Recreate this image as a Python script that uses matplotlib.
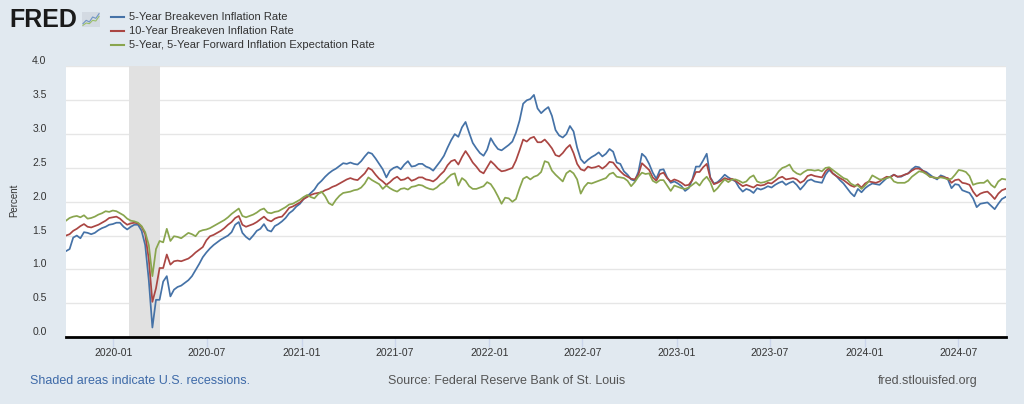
import matplotlib
matplotlib.use("Agg")
import matplotlib.pyplot as plt
import matplotlib.dates as mdates
import pandas as pd

# weekly readings (Tuesdays from 2019-10-01), percent
five_year = [
    1.27, 1.30, 1.47, 1.50, 1.46, 1.55, 1.54, 1.52, 1.54, 1.58,
    1.61, 1.63, 1.66, 1.67, 1.69, 1.69, 1.63, 1.59, 1.63, 1.66,
    1.66, 1.57, 1.36, 0.84, 0.14, 0.55, 0.55, 0.82, 0.90, 0.60,
    0.70, 0.74, 0.76, 0.80, 0.84, 0.90, 0.99, 1.08, 1.18, 1.25,
    1.31, 1.36, 1.40, 1.44, 1.47, 1.50, 1.55, 1.66, 1.70, 1.54,
    1.48, 1.44, 1.50, 1.57, 1.60, 1.67, 1.58, 1.56, 1.64, 1.67,
    1.71, 1.76, 1.83, 1.87, 1.93, 1.97, 2.04, 2.08, 2.13, 2.18,
    2.26, 2.31, 2.37, 2.42, 2.46, 2.49, 2.53, 2.57, 2.56, 2.58,
    2.56, 2.55, 2.60, 2.67, 2.73, 2.71, 2.64, 2.56, 2.48, 2.36,
    2.46, 2.50, 2.52, 2.48, 2.55, 2.60, 2.52, 2.53, 2.56, 2.56,
    2.52, 2.50, 2.46, 2.53, 2.60, 2.68, 2.80, 2.91, 3.00, 2.96,
    3.10, 3.18, 3.02, 2.87, 2.79, 2.72, 2.68, 2.77, 2.94, 2.85,
    2.78, 2.76, 2.80, 2.84, 2.89, 3.02, 3.20, 3.45, 3.50, 3.52,
    3.58, 3.38, 3.31, 3.36, 3.40, 3.27, 3.06, 2.98, 2.95, 3.00,
    3.12, 3.04, 2.80, 2.63, 2.57, 2.62, 2.66, 2.69, 2.73, 2.67,
    2.71, 2.78, 2.74, 2.58, 2.56, 2.45, 2.40, 2.33, 2.31, 2.44,
    2.71, 2.66, 2.56, 2.43, 2.34, 2.47, 2.48, 2.36, 2.28, 2.30,
    2.27, 2.23, 2.16, 2.20, 2.33, 2.52, 2.52, 2.61, 2.71, 2.36,
    2.27, 2.29, 2.34, 2.40, 2.36, 2.33, 2.30, 2.21, 2.15, 2.19,
    2.17, 2.13, 2.20, 2.18, 2.20, 2.23, 2.21, 2.25, 2.28, 2.30,
    2.25, 2.28, 2.30, 2.25, 2.18, 2.24, 2.31, 2.33, 2.30, 2.29,
    2.28, 2.40, 2.47, 2.42, 2.38, 2.32, 2.27, 2.20, 2.13, 2.08,
    2.19, 2.14, 2.20, 2.24, 2.27, 2.26, 2.25, 2.30, 2.35, 2.37,
    2.40, 2.37, 2.37, 2.40, 2.42, 2.48, 2.52, 2.51, 2.46, 2.44,
    2.40, 2.36, 2.33, 2.39, 2.37, 2.33, 2.20, 2.26, 2.25, 2.17,
    2.15, 2.13, 2.05, 1.92, 1.97, 1.98, 1.99, 1.94, 1.89, 1.97,
    2.04, 2.07,
]

ten_year = [
    1.50, 1.52, 1.57, 1.60, 1.64, 1.67, 1.63, 1.62, 1.64, 1.66,
    1.69, 1.72, 1.76, 1.77, 1.78, 1.75, 1.70, 1.66, 1.68, 1.69,
    1.68, 1.63, 1.52, 1.15, 0.52, 0.72, 1.02, 1.02, 1.22, 1.07,
    1.12, 1.13, 1.12, 1.14, 1.16, 1.20, 1.25, 1.29, 1.33, 1.43,
    1.49, 1.51, 1.54, 1.57, 1.61, 1.66, 1.70, 1.76, 1.79, 1.66,
    1.63, 1.65, 1.67, 1.70, 1.74, 1.78, 1.73, 1.71, 1.75, 1.77,
    1.78, 1.84, 1.91, 1.93, 1.96, 1.99, 2.04, 2.07, 2.10, 2.12,
    2.13, 2.14, 2.17, 2.19, 2.22, 2.24, 2.27, 2.30, 2.33, 2.35,
    2.33, 2.32, 2.37, 2.42, 2.50, 2.47, 2.40, 2.34, 2.30, 2.25,
    2.29, 2.34, 2.37, 2.32, 2.33, 2.36, 2.31, 2.33, 2.36, 2.36,
    2.33, 2.32, 2.30, 2.34, 2.40, 2.45, 2.54, 2.60, 2.62, 2.55,
    2.66, 2.75, 2.67, 2.58, 2.52, 2.45, 2.42, 2.51, 2.60, 2.55,
    2.49, 2.45, 2.46, 2.48, 2.50, 2.61, 2.76, 2.92, 2.89, 2.94,
    2.96, 2.88, 2.88, 2.92, 2.86, 2.79, 2.69, 2.67, 2.72, 2.79,
    2.84, 2.72, 2.56, 2.48, 2.46, 2.52, 2.50, 2.51, 2.53, 2.49,
    2.53, 2.59, 2.58, 2.51, 2.45, 2.40, 2.37, 2.34, 2.33, 2.40,
    2.57, 2.52, 2.47, 2.36, 2.31, 2.41, 2.43, 2.35, 2.30, 2.33,
    2.31, 2.28, 2.24, 2.25, 2.32, 2.44, 2.44, 2.51, 2.56, 2.35,
    2.26, 2.28, 2.31, 2.35, 2.33, 2.34, 2.31, 2.27, 2.23, 2.25,
    2.23, 2.21, 2.25, 2.24, 2.25, 2.28, 2.27, 2.31, 2.35, 2.37,
    2.33, 2.34, 2.35, 2.33, 2.28, 2.31, 2.38, 2.40, 2.38, 2.37,
    2.36, 2.45, 2.50, 2.42, 2.38, 2.35, 2.32, 2.28, 2.24, 2.22,
    2.26, 2.21, 2.27, 2.30, 2.29, 2.28, 2.30, 2.34, 2.37, 2.36,
    2.40, 2.37, 2.38, 2.40, 2.42, 2.46, 2.49, 2.49, 2.46, 2.42,
    2.37, 2.36, 2.35, 2.37, 2.36, 2.35, 2.28, 2.32, 2.33, 2.28,
    2.27, 2.25, 2.15, 2.08, 2.12, 2.14, 2.15, 2.10, 2.04, 2.12,
    2.17, 2.19,
]

forward_5y5y = [
    1.72, 1.76, 1.78, 1.79, 1.77, 1.80, 1.75, 1.76, 1.78, 1.81,
    1.83, 1.86, 1.85, 1.87, 1.86, 1.83, 1.80, 1.75, 1.72, 1.71,
    1.69, 1.64, 1.55, 1.36, 0.90, 1.30, 1.42, 1.40, 1.60, 1.42,
    1.49, 1.48, 1.46, 1.50, 1.54, 1.52, 1.49, 1.56, 1.58, 1.59,
    1.61, 1.64, 1.67, 1.70, 1.73, 1.77, 1.82, 1.86, 1.90, 1.79,
    1.77, 1.79, 1.81, 1.84, 1.88, 1.90, 1.84, 1.83, 1.85, 1.86,
    1.89, 1.92, 1.96, 1.97, 2.00, 2.03, 2.07, 2.10, 2.07, 2.05,
    2.11, 2.15, 2.08, 1.98, 1.95, 2.03, 2.09, 2.13, 2.14, 2.15,
    2.17, 2.18, 2.21, 2.27, 2.36, 2.32, 2.29, 2.26, 2.19, 2.24,
    2.20, 2.17, 2.15, 2.19, 2.20, 2.18, 2.22, 2.23, 2.25, 2.24,
    2.21, 2.19, 2.18, 2.21, 2.26, 2.29, 2.35, 2.40, 2.42, 2.24,
    2.35, 2.31, 2.23, 2.19, 2.19, 2.21, 2.23, 2.29, 2.26, 2.18,
    2.08, 1.97, 2.06, 2.05, 2.00, 2.04, 2.20, 2.34, 2.37, 2.33,
    2.37, 2.39, 2.44, 2.60, 2.58, 2.46, 2.40, 2.35, 2.30, 2.42,
    2.46, 2.42, 2.33, 2.12, 2.22, 2.28, 2.27, 2.29, 2.31, 2.33,
    2.35, 2.41, 2.43, 2.37, 2.36, 2.35, 2.31, 2.23, 2.29, 2.37,
    2.43, 2.41, 2.42, 2.31, 2.28, 2.32, 2.32, 2.24, 2.16, 2.24,
    2.22, 2.20, 2.19, 2.21, 2.25, 2.29, 2.24, 2.32, 2.37, 2.29,
    2.15, 2.20, 2.27, 2.33, 2.29, 2.33, 2.33, 2.31, 2.28, 2.30,
    2.36, 2.39, 2.30, 2.28, 2.29, 2.31, 2.33, 2.37, 2.45, 2.50,
    2.52, 2.55, 2.46, 2.42, 2.40, 2.44, 2.47, 2.47, 2.46, 2.47,
    2.45, 2.50, 2.51, 2.47, 2.43, 2.39, 2.35, 2.33, 2.27, 2.24,
    2.24, 2.19, 2.24, 2.30, 2.39, 2.36, 2.33, 2.33, 2.35, 2.37,
    2.30, 2.28, 2.28, 2.28, 2.31, 2.37, 2.41, 2.45, 2.44, 2.41,
    2.37, 2.36, 2.35, 2.36, 2.35, 2.33, 2.34, 2.40, 2.47, 2.46,
    2.44, 2.38, 2.25, 2.27, 2.28, 2.28, 2.32, 2.25, 2.21, 2.30,
    2.34, 2.33,
]

series_names = [
    "5-Year Breakeven Inflation Rate",
    "10-Year Breakeven Inflation Rate",
    "5-Year, 5-Year Forward Inflation Expectation Rate",
]
colors = ["#4572a7", "#aa4643", "#89a54e"]
recession_start = "2020-02-01"
recession_end = "2020-04-01"

plt.rcParams["font.family"] = ["Liberation Sans Narrow", "Liberation Sans", "DejaVu Sans"]

W, H = 1024, 404
bg = "#e1e9f0"

dates = pd.date_range("2019-10-01", periods=len(five_year), freq="7D")

fig = plt.figure(figsize=(W / 100, H / 100), dpi=100, facecolor=bg)
ax = fig.add_axes([66 / W, 1 - 337 / H, 940 / W, 270.5 / H])
ax.set_facecolor("white")

ax.axvspan(pd.Timestamp(recession_start), pd.Timestamp(recession_end),
           color="#e1e1e1", lw=0, zorder=1)

for vals, c in zip([five_year, ten_year, forward_5y5y], colors):
    ax.plot(dates, vals, color=c, lw=1.25, zorder=3)

ax.set_ylim(0, 4)
ax.set_xlim(pd.Timestamp("2019-10-01"), pd.Timestamp("2024-10-02"))
ax.set_yticks([0, 0.5, 1.0, 1.5, 2.0, 2.5, 3.0, 3.5, 4.0])
ax.yaxis.set_major_formatter(matplotlib.ticker.FormatStrFormatter("%.1f"))
ax.grid(axis="y", color="#e6e6e6", lw=1, zorder=0)
ax.set_axisbelow(True)

ax.xaxis.set_major_locator(mdates.MonthLocator(bymonth=[1, 7]))
ax.xaxis.set_major_formatter(mdates.DateFormatter("%Y-%m"))

for s in ["top", "right", "left"]:
    ax.spines[s].set_visible(False)
ax.spines["bottom"].set_color("black")
ax.spines["bottom"].set_linewidth(2)
ax.spines["bottom"].set_zorder(4)

ax.tick_params(axis="y", length=0, pad=14, labelsize=7.5, labelcolor="#333333")
ax.tick_params(axis="x", length=7, width=1, color="#ccd6eb", pad=1,
               labelsize=7.5, labelcolor="#333333")
for lab in ax.get_yticklabels():
    lab.set_verticalalignment("bottom")

fig.text(14 / W, 1 - 200 / H, "Percent", rotation=90, ha="center", va="center",
         fontsize=7, color="#333333")

# header: logo + legend
fig.text(9 / W, 1 - 27 / H, "FRED", fontsize=18, fontweight="bold",
         color="#1a1a1a", ha="left", va="baseline")
icon = fig.add_axes([82 / W, 1 - 27 / H, 18 / W, 15 / H])
icon.set_facecolor("#d3dae2")
icon.set_xticks([])
icon.set_yticks([])
for s in icon.spines.values():
    s.set_visible(False)
icon.plot([0, 1, 2, 3, 4, 5], [1, 2, 1.5, 3, 2.6, 4], color="#6f94c4", lw=0.8)
icon.plot([0, 1, 2, 3, 4, 5], [0.5, 1.2, 1.0, 2.0, 1.8, 3.2], color="#9bbf6a", lw=0.8)
icon.set_xlim(-0.3, 5.3)
icon.set_ylim(0, 4.5)

leg_y = [17, 31, 44.5]
for name, c, y in zip(series_names, colors, leg_y):
    fig.add_artist(plt.Line2D([111 / W, 124 / W], [1 - y / H, 1 - y / H],
                              color=c, lw=1.5, transform=fig.transFigure))
    fig.text(129 / W, 1 - y / H, name, fontsize=8, color="#333333",
             ha="left", va="center")

# footer
fig.text(30 / W, 1 - 381 / H, "Shaded areas indicate U.S. recessions.",
         fontsize=9, color="#3e6aa8", ha="left", va="center")
fig.text(388 / W, 1 - 381 / H, "Source: Federal Reserve Bank of St. Louis",
         fontsize=9, color="#555555", ha="left", va="center")
fig.text(978 / W, 1 - 381 / H, "fred.stlouisfed.org",
         fontsize=9, color="#555555", ha="right", va="center")

fig.savefig("out.png", dpi=100, facecolor=bg)
